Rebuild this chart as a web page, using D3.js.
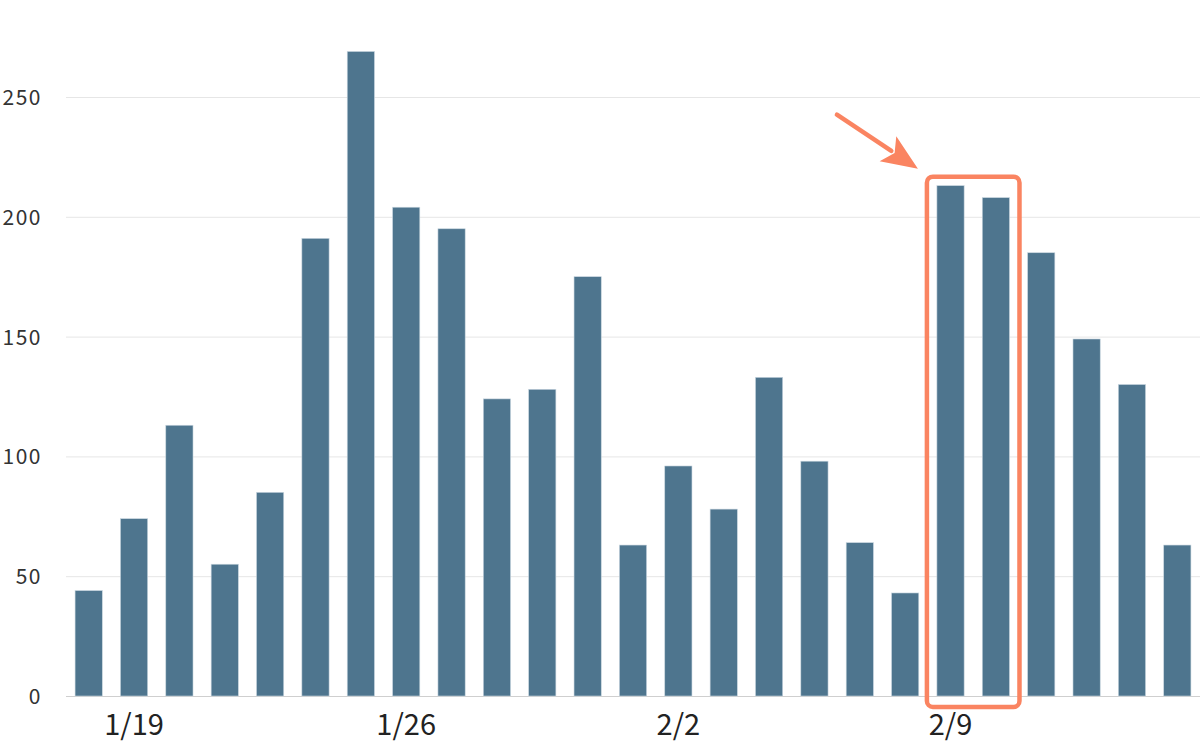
<!DOCTYPE html>
<html><head><meta charset="utf-8">
<script src="https://cdn.jsdelivr.net/npm/d3@7"></script>
<style>html,body{margin:0;padding:0;background:#fff;}svg{display:block;}</style>
</head><body>
<svg id="c" width="1200" height="744"></svg>
<script>
const categories = ["1/17","1/19","1/20","1/21","1/22","1/23","1/24","1/26","1/27","1/28","1/29","1/30","1/31","2/2","2/3","2/4","2/5","2/6","2/7","2/9","2/10","2/11","2/12","2/13","2/14"];
const values = [44,74,113,55,85,191,269,204,195,124,128,175,63,96,78,133,98,64,43,213,208,185,149,130,63];
const xTickLabels = ["1/19","1/26","2/2","2/9"];
const yTicks = [0,50,100,150,200,250];
const highlighted = ["2/9","2/10"];

const svg = d3.select("#c");
const x = d3.scaleBand().domain(categories).range([66,1200]).paddingInner(0.4).paddingOuter(0.2);
const y = d3.scaleLinear().domain([0,250]).range([696,97]);

const font = "'Noto Sans CJK JP','Noto Sans',sans-serif";

// gridlines
svg.append("g").selectAll("line").data(yTicks).join("line")
  .attr("x1",66).attr("x2",1200)
  .attr("y1",d=>y(d)+0.5).attr("y2",d=>y(d)+0.5)
  .attr("stroke",d=>d===0?"#cfcfcf":"#e6e6e6").attr("stroke-width",1);

// y labels
svg.append("g").selectAll("text").data(yTicks).join("text")
  .attr("x",42).attr("y",d=>y(d)+8)
  .attr("text-anchor","end")
  .attr("font-family",font).attr("font-size",21).attr("letter-spacing",1.5)
  .attr("fill","#333").text(d=>d);

// bars
svg.append("g").selectAll("rect").data(categories).join("rect")
  .attr("x",d=>x(d)).attr("width",x.bandwidth())
  .attr("y",(d,i)=>y(values[i])).attr("height",(d,i)=>y(0)-y(values[i]))
  .attr("fill","#4e758e").attr("stroke","#c9d6df").attr("stroke-width",0.6);

// x labels
svg.append("g").selectAll("text").data(xTickLabels).join("text")
  .attr("x",d=>x(d)+x.bandwidth()/2).attr("y",735)
  .attr("text-anchor","middle")
  .attr("font-family",font).attr("font-size",29)
  .attr("fill","#222").text(d=>d);

// highlight box
const hx0 = x(highlighted[0]) - 10;
const hx1 = x(highlighted[highlighted.length-1]) + x.bandwidth() + 10;
const hMax = d3.max(highlighted, h => values[categories.indexOf(h)]);
const hy0 = y(hMax) - 9;
const hy1 = y(0) + 11;
const orange = "#fa8461";
svg.append("rect").attr("x",hx0).attr("y",hy0).attr("width",hx1-hx0).attr("height",hy1-hy0)
  .attr("rx",6).attr("fill","none").attr("stroke",orange).attr("stroke-width",4.5);

// arrow
const tipX = hx0 - 9, tipY = hy0 - 8;
const sx = tipX - 81, sy = tipY - 54;
const ang = Math.atan2(tipY-sy, tipX-sx);
const headLen = 36, headW = 15;
const bx = tipX - headLen*Math.cos(ang), by = tipY - headLen*Math.sin(ang);
svg.append("line").attr("x1",sx).attr("y1",sy).attr("x2",bx+4*Math.cos(ang)).attr("y2",by+4*Math.sin(ang))
  .attr("stroke",orange).attr("stroke-width",4.5).attr("stroke-linecap","round");
const px = -Math.sin(ang), py = Math.cos(ang);
const notch = 8;
const nx = bx + notch*Math.cos(ang), ny = by + notch*Math.sin(ang);
svg.append("path")
  .attr("d",`M${tipX},${tipY} L${bx+headW*px},${by+headW*py} L${nx},${ny} L${bx-headW*px},${by-headW*py} Z`)
  .attr("fill",orange);
</script>
</body></html>
